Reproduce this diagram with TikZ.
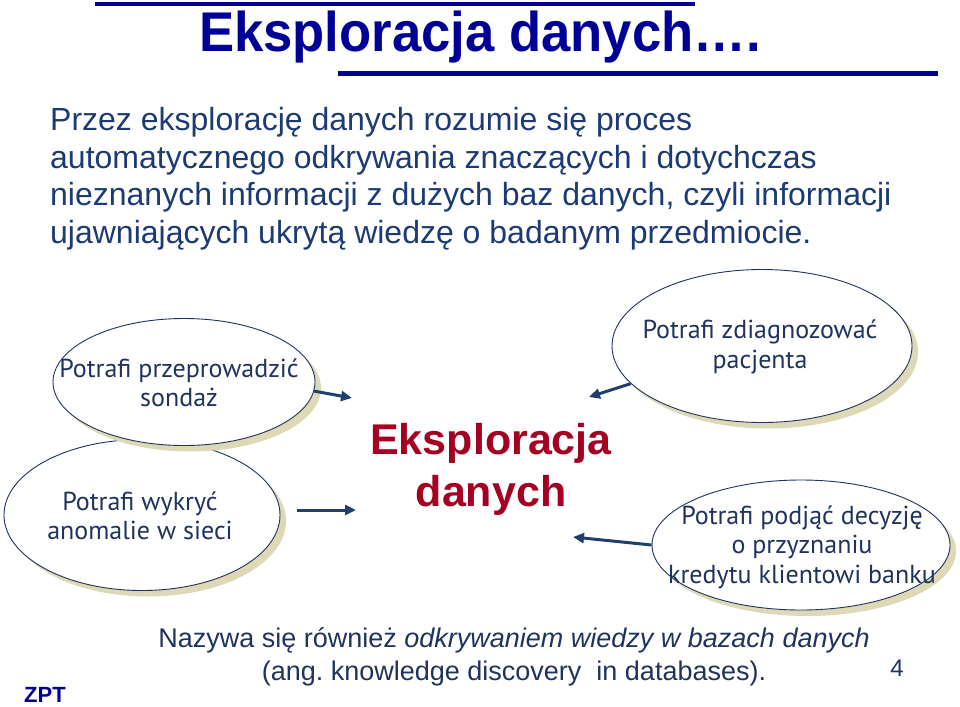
\documentclass[tikz,border=0pt]{standalone}
\usepackage{fontspec}
\setmainfont{Liberation Sans}
\newfontfamily\ellfont{PT Sans}
\usetikzlibrary{arrows.meta,shapes.geometric,shadows}

\definecolor{titleblue}{RGB}{0,0,150}
\definecolor{parblue}{RGB}{28,58,115}
\definecolor{navytext}{RGB}{31,51,94}
\definecolor{arrowblue}{RGB}{31,63,111}
\definecolor{centrered}{RGB}{165,0,33}
\definecolor{shadowtan}{RGB}{221,217,183}

\tikzset{
  bubble/.style={ellipse, draw=navytext, line width=0.9pt, fill=white, inner sep=0pt,
    copy shadow={shadow xshift=6pt, shadow yshift=-6pt, draw=none, fill=shadowtan}},
  bubbletext/.style={align=center, text=navytext, inner sep=0pt,
    font=\ellfont\fontsize{26}{29.5}\selectfont},
  feed/.style={draw=arrowblue, line width=3pt, -{Triangle[length=11pt,width=10pt]}},
  rulebar/.style={draw=titleblue, line width=4.5pt},
}

\begin{document}
\begin{tikzpicture}[x=1pt,y=-1pt]
\useasboundingbox (0,0) rectangle (960,706);

% title and rules
\draw[rulebar] (95,4) -- (695,4);
\draw[rulebar] (338,73.5) -- (938,73.5);
\node[anchor=base, text=titleblue, font=\bfseries\fontsize{56}{60}\selectfont] (title) at (480,52) {\scalebox{0.94}[1]{Eksploracja danych\dots.}};

% definition
\node[anchor=north west, align=left, inner sep=0pt, text=parblue,
      font=\fontsize{32}{37.7}\selectfont] (defn) at (50,107)
  {Przez eksplorację danych rozumie się proces\\
   automatycznego odkrywania znaczących i dotychczas\\
   nieznanych informacji z dużych baz danych, czyli informacji\\
   ujawniających ukrytą wiedzę o badanym przedmiocie.};

% bubbles
\node[bubble, minimum width=276pt, minimum height=151pt] (anomal) at (142,515) {};
\node[bubble, minimum width=262pt, minimum height=127pt] (sondaz) at (184,382) {};
\node[bubble, minimum width=300pt, minimum height=153pt] (diag) at (762,346) {};
\node[bubble, minimum width=298pt, minimum height=130pt] (kredyt) at (801,545) {};

\node[bubbletext] (sondazTxt) at (179,383) {Potrafi przeprowadzić\\sondaż};
\node[bubbletext] (anomalTxt) at (140,516) {Potrafi wykryć\\anomalie w sieci};
\node[bubbletext] (diagTxt) at (760,347) {Potrafi zdiagnozować\\pacjenta};
\node[bubbletext] (kredytTxt) at (802,547) {Potrafi podjąć decyzję\\o przyznaniu\\kredytu klientowi banku};

% centre
\node[align=center, text=centrered, font=\bfseries\fontsize{43}{52}\selectfont] (eksp) at (491,469) {Eksploracja\\danych};

% arrows
\coordinate (inA) at (352,398);
\coordinate (outB) at (297,510);
\coordinate (inB) at (356,510);
\coordinate (inC) at (589,397);
\coordinate (inD) at (573,537);
\draw[feed] (sondaz.-4) -- (inA);
\draw[feed] (outB) -- (inB);
\draw[feed] (diag.196) -- (inC);
\draw[feed] (kredyt.west) -- (inD);

% footer
\node[align=center, text=navytext, font=\fontsize{27}{33}\selectfont] (aka) at (514,657)
  {Nazywa się również \textit{odkrywaniem wiedzy w bazach danych}\\
   (ang.\ knowledge discovery \ in databases).};
\node[text=navytext, font=\fontsize{24}{24}\selectfont] (pageno) at (897,668) {4};
\node[text=titleblue, font=\bfseries\fontsize{22}{22}\selectfont] (zpt) at (45,695) {ZPT};
\end{tikzpicture}
\end{document}
